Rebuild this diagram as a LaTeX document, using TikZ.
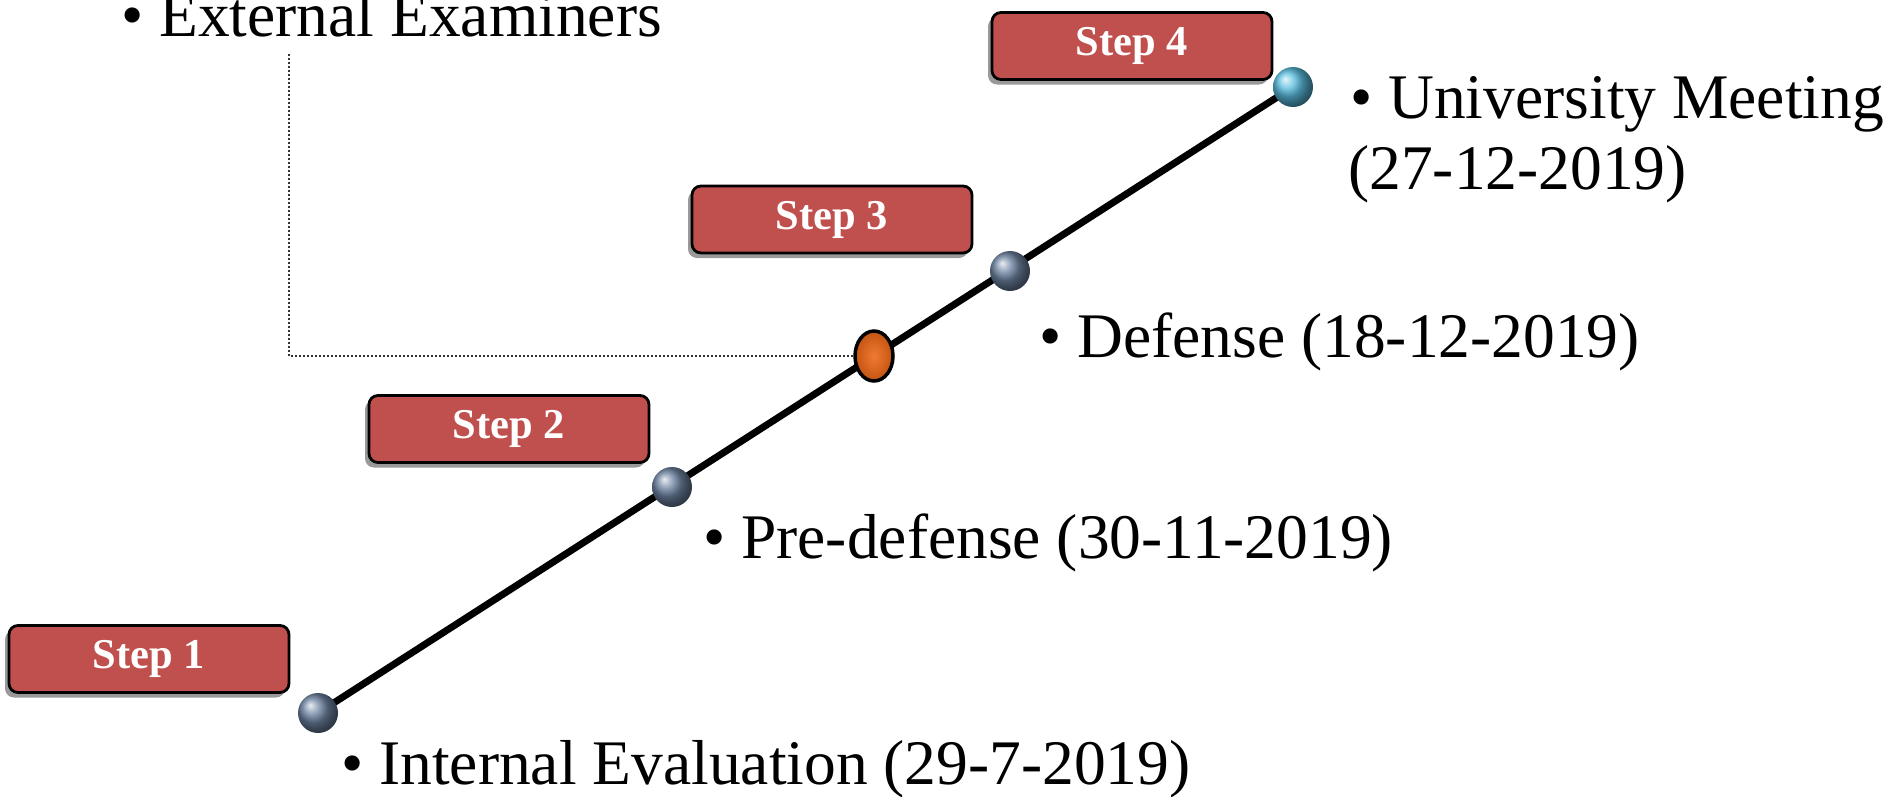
\documentclass[tikz,border=0pt]{standalone}
\usepackage{fontspec}
\setmainfont{Liberation Serif}
\usetikzlibrary{shapes.geometric,shadows,backgrounds}
\definecolor{stepred}{RGB}{192,80,77}
\definecolor{steelball}{RGB}{110,132,162}
\definecolor{skyball}{RGB}{90,190,225}
\definecolor{orlight}{RGB}{240,122,50}
\definecolor{ordark}{RGB}{196,84,18}
\tikzset{
  stepbox/.style={rectangle, rounded corners=9pt, fill=stepred, draw=black, line width=2.8pt,
    minimum width=280pt, minimum height=67pt, inner sep=0pt, text=white,
    font=\bfseries\fontsize{42.5}{48}\selectfont,
    drop shadow={shadow xshift=-4pt, shadow yshift=-5pt, fill=black!50, opacity=0.8}},
  ballnode/.style={circle, minimum size=40pt, inner sep=0pt, shading=ball},
  lbl/.style={anchor=base west, inner sep=0pt, font=\fontsize{63.5}{70}\selectfont},
}
\begin{document}
\begin{tikzpicture}[x=1pt,y=-1pt]
\useasboundingbox (0,0) rectangle (1890,796);
% step boxes
\node[stepbox] (s1) at (149,659) {Step 1};
\node[stepbox] (s2) at (509,429) {Step 2};
\node[stepbox] (s3) at (832,219.5) {Step 3};
\node[stepbox] (s4) at (1132,46) {Step 4};
% balls
\node[ballnode, ball color=steelball] (b1) at (318,713) {};
\node[ballnode, ball color=steelball] (b2) at (672,487) {};
\node[ballnode, ball color=steelball] (b3) at (1010,271) {};
\node[ballnode, ball color=skyball] (b4) at (1293,87) {};
\node[ellipse, minimum width=38pt, minimum height=50pt, inner sep=0pt, draw=black, line width=3.5pt,
  shading=radial, inner color=orlight, outer color=ordark] (ov) at (874,356) {};
% timeline
\begin{scope}[on background layer]
\draw[line width=7pt, black] (b1.center) -- (b4.center);
\end{scope}
% dotted connector
\coordinate (dc) at (289,54);
\draw[line width=1.6pt, dash pattern=on 1.6pt off 2.4pt, black!80] (dc) |- (ov.west);
% labels
\node[lbl] (t1) at (341,784) {• Internal Evaluation (29-7-2019)};
\node[lbl] (t2) at (703,558) {• Pre-defense (30-11-2019)};
\node[lbl] (t3) at (1039,357) {• Defense (18-12-2019)};
\node[lbl] (t4) at (1350,118) {• University Meeting};
\node[lbl] (t4b) at (1348,189) {(27-12-2019)};
\node[lbl] (t5) at (121,36) {• External Examiners};
\end{tikzpicture}
\end{document}
